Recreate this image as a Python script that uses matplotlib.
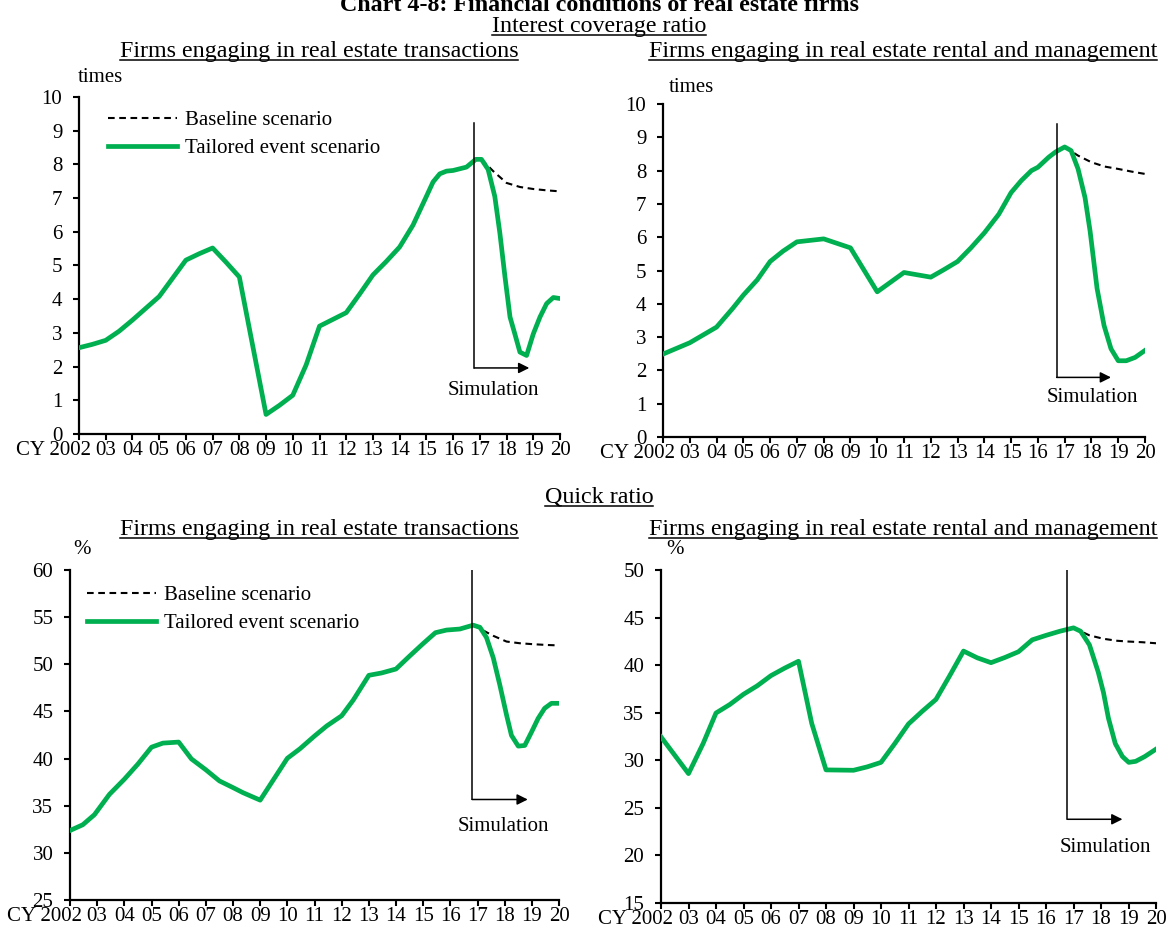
import matplotlib
matplotlib.use("Agg")
import matplotlib.pyplot as plt
from matplotlib.lines import Line2D
from matplotlib.transforms import ScaledTranslation

plt.rcParams['font.family'] = ['Liberation Serif', 'DejaVu Serif']
plt.rcParams['font.size'] = 15

GREEN = '#00B050'
W, H = 1168, 934

# ---- data ----
# interest coverage ratio, real estate transactions
tl_years = [2002.0, 2002.5, 2003.0, 2003.5, 2004.0, 2004.5, 2005.0, 2005.5, 2006.0, 2006.5,
            2007.0, 2007.5, 2008.0, 2009.0, 2009.5, 2010.0, 2010.5, 2011.0, 2011.5, 2012.0,
            2012.5, 2013.0, 2013.5, 2014.0, 2014.5, 2015.0, 2015.25, 2015.5, 2015.75, 2016.0,
            2016.5, 2016.85, 2017.06, 2017.31, 2017.56, 2017.75, 2017.94, 2018.13, 2018.31, 2018.5,
            2018.75, 2019.0, 2019.25, 2019.5, 2019.75, 2020.0]
tl_tailored = [2.56, 2.66, 2.78, 3.05, 3.38, 3.73, 4.08, 4.62, 5.16, 5.35,
               5.52, 5.10, 4.66, 0.58, 0.85, 1.15, 2.05, 3.20, 3.40, 3.60,
               4.15, 4.72, 5.12, 5.55, 6.20, 7.05, 7.48, 7.72, 7.80, 7.82,
               7.92, 8.15, 8.15, 7.85, 7.05, 5.96, 4.67, 3.47, 2.97, 2.43,
               2.33, 2.97, 3.47, 3.87, 4.05, 4.02]
tl_base_years = [2017.06, 2017.5, 2018.0, 2018.5, 2019.0, 2019.5, 2020.0]
tl_baseline = [8.15, 7.80, 7.45, 7.33, 7.27, 7.23, 7.20]

# interest coverage ratio, rental and management
tr_years = [2002.0, 2003.0, 2004.0, 2004.6, 2005.0, 2005.52, 2006.0, 2006.48, 2007.0, 2008.0,
            2009.0, 2010.0, 2011.0, 2012.0, 2012.48, 2013.0, 2013.5, 2014.0, 2014.54, 2015.0,
            2015.38, 2015.76, 2016.0, 2016.4, 2016.66, 2017.0, 2017.24, 2017.5, 2017.76, 2017.95,
            2018.21, 2018.47, 2018.73, 2019.0, 2019.3, 2019.63, 2020.0]
tr_tailored = [2.49, 2.83, 3.30, 3.86, 4.26, 4.72, 5.27, 5.58, 5.86, 5.95,
               5.68, 4.36, 4.94, 4.80, 5.02, 5.27, 5.68, 6.13, 6.69, 7.34,
               7.70, 8.00, 8.10, 8.40, 8.56, 8.71, 8.60, 8.05, 7.19, 6.18,
               4.46, 3.35, 2.65, 2.29, 2.29, 2.39, 2.60]
tr_base_years = [2017.0, 2017.5, 2018.0, 2018.5, 2019.0, 2019.5, 2020.0]
tr_baseline = [8.71, 8.45, 8.25, 8.12, 8.05, 7.97, 7.90]

# quick ratio, real estate transactions
bl_years = [2002.0, 2002.47, 2002.9, 2003.45, 2004.0, 2004.5, 2005.0, 2005.42, 2006.0, 2006.47,
            2007.0, 2007.5, 2008.0, 2008.37, 2009.0, 2010.0, 2010.46, 2011.0, 2011.45, 2012.0,
            2012.43, 2013.0, 2013.47, 2014.0, 2014.5, 2015.0, 2015.45, 2015.86, 2016.35, 2016.84,
            2017.09, 2017.33, 2017.58, 2017.82, 2018.07, 2018.25, 2018.5, 2018.74, 2018.99, 2019.23,
            2019.47, 2019.72, 2020.0]
bl_tailored = [32.37, 32.98, 34.05, 36.2, 37.81, 39.42, 41.21, 41.64, 41.75, 39.96,
               38.81, 37.63, 36.92, 36.38, 35.59, 40.03, 41.03, 42.39, 43.46, 44.54,
               46.22, 48.83, 49.08, 49.50, 50.87, 52.2, 53.35, 53.63, 53.74, 54.15,
               53.92, 52.84, 50.69, 47.83, 44.61, 42.46, 41.32, 41.39, 42.82, 44.25,
               45.33, 45.86, 45.86]
bl_base_years = [2016.84, 2017.58, 2018.07, 2018.56, 2019.05, 2019.54, 2020.0]
bl_baseline = [54.15, 53.02, 52.41, 52.23, 52.13, 52.05, 52.0]

# quick ratio, rental and management
br_years = [2002.0, 2003.0, 2003.53, 2004.0, 2004.5, 2005.0, 2005.5, 2006.0, 2006.5, 2007.0,
            2007.48, 2008.0, 2009.0, 2009.5, 2010.0, 2010.5, 2011.0, 2011.5, 2012.0, 2012.5,
            2013.0, 2013.5, 2014.0, 2014.5, 2015.0, 2015.5, 2016.0, 2016.5, 2017.0, 2017.26,
            2017.58, 2017.9, 2018.09, 2018.27, 2018.52, 2018.78, 2019.01, 2019.26, 2019.59, 2020.0]
br_tailored = [32.46, 28.6, 31.75, 34.97, 35.86, 36.94, 37.83, 38.9, 39.69, 40.41,
               33.89, 28.99, 28.95, 29.31, 29.78, 31.75, 33.82, 35.15, 36.4, 38.9,
               41.48, 40.77, 40.26, 40.8, 41.41, 42.66, 43.13, 43.56, 43.92, 43.56,
               42.13, 39.26, 37.12, 34.43, 31.75, 30.39, 29.78, 29.89, 30.39, 31.17]
br_base_years = [2017.0, 2017.58, 2018.09, 2018.59, 2019.0, 2019.5, 2020.0]
br_baseline = [43.92, 43.13, 42.77, 42.56, 42.48, 42.41, 42.3]

year_ticks = list(range(2002, 2021))
year_labels = ['CY 2002'] + ['%02d' % (y % 100) for y in range(2003, 2021)]

fig = plt.figure(figsize=(W / 100, H / 100), dpi=100)


def panel(box, years, tailored, base_years, baseline, ylim, ystep, sim, legend_xy=None):
    l, t, r, b = box
    ax = fig.add_axes([l / W, 1 - b / H, (r - l) / W, (b - t) / H])
    ax.plot(base_years, baseline, color='black', lw=1.5, ls=(0, (3.2, 2.2)),
            label='Baseline scenario', zorder=2)
    ax.plot(years, tailored, color=GREEN, lw=3.4, label='Tailored event scenario',
            solid_joinstyle='round', zorder=3)
    ax.set_xlim(2002, 2020)
    ax.set_ylim(*ylim)
    ax.set_yticks(range(ylim[0], ylim[1] + 1, ystep))
    ax.set_xticks(year_ticks)
    ax.set_xticklabels(year_labels)
    for s in ['top', 'right']:
        ax.spines[s].set_visible(False)
    for s in ['left', 'bottom']:
        ax.spines[s].set_linewidth(1.6)
    ax.tick_params(axis='y', direction='out', length=4, width=1.5, pad=8)
    ax.tick_params(axis='x', direction='out', length=4, width=1.5, pad=1)
    first = ax.get_xticklabels()[0]
    first.set_ha('right')
    first.set_transform(first.get_transform() + ScaledTranslation(0.12, 0, fig.dpi_scale_trans))

    # simulation marker
    sx, stop, sbot, stip, tx, ty = sim
    ax.plot([sx, sx], [stop, sbot], color='black', lw=1.1, zorder=4)
    ax.annotate('', xy=(stip, sbot), xytext=(sx, sbot),
                arrowprops=dict(arrowstyle='-|>', color='black', lw=1.1,
                                mutation_scale=16, shrinkA=0, shrinkB=0))
    ax.text(tx, ty, 'Simulation', ha='center', va='center', fontsize=15)

    if legend_xy is not None:
        h, lab = ax.get_legend_handles_labels()
        ax.legend(h, lab, loc='upper left', bbox_to_anchor=legend_xy, frameon=False,
                  borderpad=0, borderaxespad=0, handlelength=3.3, handletextpad=0.4,
                  labelspacing=0.4, fontsize=15)
    return ax


panel((79, 97, 560, 434), tl_years, tl_tailored, tl_base_years, tl_baseline, (0, 10), 1,
      (2016.8, 9.23, 1.96, 2018.85, 2017.52, 1.28), legend_xy=(0.06, 0.96))
panel((663, 104, 1145, 437), tr_years, tr_tailored, tr_base_years, tr_baseline, (0, 10), 1,
      (2016.7, 9.4, 1.79, 2018.73, 2018.02, 1.2))
panel((70, 570, 559, 900), bl_years, bl_tailored, bl_base_years, bl_baseline, (25, 60), 5,
      (2016.8, 60, 35.66, 2018.85, 2017.97, 32.8), legend_xy=(0.035, 0.953))
panel((661, 570, 1156, 903), br_years, br_tailored, br_base_years, br_baseline, (15, 50), 5,
      (2016.78, 50, 23.8, 2018.78, 2018.16, 20.83))

# unit labels
for x, y, s in [(100, 78, 'times'), (691, 88, 'times'), (82, 550, '%'), (675, 550, '%')]:
    fig.text(x / W, 1 - y / H, s, ha='center', va='center', fontsize=15)

# headings
fig.text(599 / W, 1 - 11 / H, 'Chart 4-8: Financial conditions of real estate firms',
         ha='center', va='baseline', fontsize=17.3, fontweight='bold')
underlined = []
for x, y, s in [(599, 32, 'Interest coverage ratio'),
                (319, 57, 'Firms engaging in real estate transactions'),
                (903, 57, 'Firms engaging in real estate rental and management'),
                (599, 503, 'Quick ratio'),
                (319, 535, 'Firms engaging in real estate transactions'),
                (903, 535, 'Firms engaging in real estate rental and management')]:
    t = fig.text(x / W, 1 - y / H, s, ha='center', va='baseline', fontsize=17.3)
    underlined.append((t, y))

fig.canvas.draw()
renderer = fig.canvas.get_renderer()
for t, y in underlined:
    bb = t.get_window_extent(renderer)
    yy = 1 - (y + 2.5) / H
    fig.add_artist(Line2D([bb.x0 / W, bb.x1 / W], [yy, yy], color='black', lw=1.1,
                          transform=fig.transFigure))

fig.savefig('out.png', dpi=100)
